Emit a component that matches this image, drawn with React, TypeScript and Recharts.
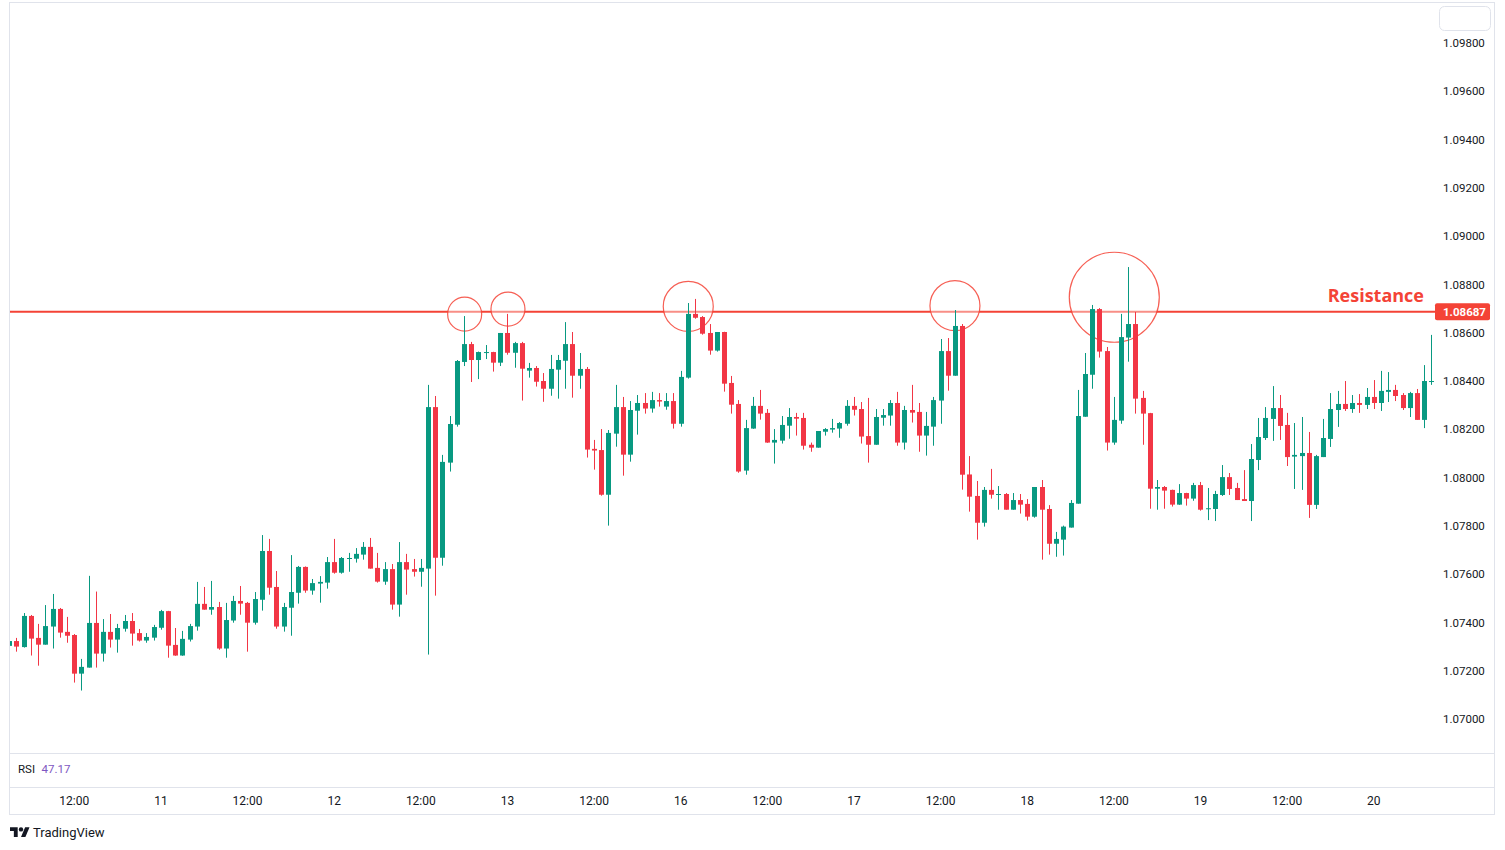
import React from 'react';
import { ComposedChart, Bar, XAxis, YAxis, ReferenceLine, ReferenceDot } from 'recharts';

// ---- data (EUR/USD hourly candles) ----
const OPEN = [
  1.07303, 1.07323, 1.07298, 1.07427, 1.07336, 1.07308, 1.07383, 1.07456, 1.07361, 1.07348,
  1.07188, 1.07213, 1.07398, 1.07271, 1.07361, 1.07329, 1.07374, 1.07406, 1.07356, 1.07325,
  1.07337, 1.07378, 1.07447, 1.07307, 1.07263, 1.07329, 1.07383, 1.07477, 1.07453, 1.07464,
  1.07292, 1.07408, 1.07489, 1.07481, 1.07399, 1.07494, 1.07696, 1.07547, 1.07383, 1.07461,
  1.07523, 1.07630, 1.07532, 1.07561, 1.07565, 1.07650, 1.07606, 1.07665, 1.07664, 1.07681,
  1.07713, 1.07626, 1.07569, 1.07621, 1.07474, 1.07650, 1.07621, 1.07610, 1.07623, 1.08292,
  1.07668, 1.08062, 1.08219, 1.08479, 1.08553, 1.08487, 1.08518, 1.08520, 1.08476, 1.08599,
  1.08517, 1.08557, 1.08443, 1.08454, 1.08400, 1.08368, 1.08447, 1.08484, 1.08553, 1.08422,
  1.08450, 1.08119, 1.08114, 1.07929, 1.08182, 1.08292, 1.08095, 1.08277, 1.08309, 1.08286,
  1.08321, 1.08294, 1.08317, 1.08223, 1.08414, 1.08678, 1.08665, 1.08599, 1.08526, 1.08603,
  1.08392, 1.08305, 1.08029, 1.08203, 1.08297, 1.08268, 1.08145, 1.08153, 1.08215, 1.08251,
  1.08247, 1.08136, 1.08124, 1.08190, 1.08199, 1.08203, 1.08223, 1.08297, 1.08284, 1.08172,
  1.08136, 1.08248, 1.08257, 1.08309, 1.08145, 1.08280, 1.08272, 1.08174, 1.08211, 1.08319,
  1.08524, 1.08422, 1.08628, 1.08013, 1.07924, 1.07813, 1.07949, 1.07928, 1.07932, 1.07867,
  1.07907, 1.07891, 1.07838, 1.07961, 1.07870, 1.07726, 1.07743, 1.07793, 1.07892, 1.08252,
  1.08426, 1.08698, 1.08524, 1.08145, 1.08236, 1.08580, 1.08636, 1.08330, 1.08267, 1.07954,
  1.07961, 1.07949, 1.07888, 1.07936, 1.07913, 1.07969, 1.07869, 1.07870, 1.07928, 1.08002,
  1.07957, 1.07911, 1.07903, 1.08073, 1.08164, 1.08243, 1.08288, 1.08218, 1.08087, 1.08089,
  1.08102, 1.07887, 1.08085, 1.08160, 1.08280, 1.08305, 1.08284, 1.08309, 1.08301, 1.08334,
  1.08309, 1.08355, 1.08363, 1.08342, 1.08288, 1.08350, 1.08239, 1.08396,
];
const HIGH = [
  1.07330, 1.07336, 1.07439, 1.07431, 1.07394, 1.07472, 1.07518, 1.07460, 1.07423, 1.07352,
  1.07249, 1.07593, 1.07528, 1.07414, 1.07435, 1.07394, 1.07431, 1.07439, 1.07373, 1.07356,
  1.07390, 1.07452, 1.07448, 1.07377, 1.07365, 1.07394, 1.07568, 1.07547, 1.07572, 1.07485,
  1.07481, 1.07510, 1.07551, 1.07485, 1.07526, 1.07762, 1.07746, 1.07613, 1.07481, 1.07679,
  1.07634, 1.07632, 1.07580, 1.07592, 1.07671, 1.07746, 1.07671, 1.07688, 1.07708, 1.07733,
  1.07750, 1.07688, 1.07650, 1.07642, 1.07733, 1.07684, 1.07663, 1.07663, 1.08384, 1.08338,
  1.08094, 1.08255, 1.08487, 1.08669, 1.08562, 1.08522, 1.08549, 1.08521, 1.08599, 1.08678,
  1.08562, 1.08562, 1.08475, 1.08462, 1.08433, 1.08508, 1.08508, 1.08644, 1.08603, 1.08516,
  1.08458, 1.08156, 1.08201, 1.08197, 1.08384, 1.08334, 1.08317, 1.08342, 1.08350, 1.08355,
  1.08350, 1.08350, 1.08350, 1.08442, 1.08723, 1.08740, 1.08669, 1.08636, 1.08603, 1.08604,
  1.08421, 1.08321, 1.08239, 1.08334, 1.08363, 1.08284, 1.08201, 1.08255, 1.08288, 1.08268,
  1.08268, 1.08145, 1.08193, 1.08205, 1.08243, 1.08230, 1.08321, 1.08334, 1.08313, 1.08330,
  1.08284, 1.08284, 1.08321, 1.08355, 1.08297, 1.08384, 1.08309, 1.08272, 1.08334, 1.08574,
  1.08578, 1.08694, 1.08636, 1.08089, 1.07986, 1.07961, 1.08036, 1.07965, 1.07936, 1.07936,
  1.07932, 1.07911, 1.07961, 1.07990, 1.07886, 1.07775, 1.07801, 1.07907, 1.08363, 1.08516,
  1.08715, 1.08702, 1.08541, 1.08334, 1.08678, 1.08872, 1.08686, 1.08359, 1.08268, 1.07990,
  1.07965, 1.07950, 1.07973, 1.07937, 1.07978, 1.07982, 1.07957, 1.07945, 1.08052, 1.08019,
  1.07978, 1.08031, 1.08139, 1.08247, 1.08292, 1.08379, 1.08342, 1.08268, 1.08226, 1.08251,
  1.08189, 1.08094, 1.08243, 1.08350, 1.08359, 1.08400, 1.08342, 1.08346, 1.08371, 1.08404,
  1.08442, 1.08437, 1.08384, 1.08350, 1.08355, 1.08367, 1.08466, 1.08591,
];
const LOW = [
  1.07300, 1.07279, 1.07296, 1.07263, 1.07221, 1.07308, 1.07292, 1.07337, 1.07316, 1.07151,
  1.07118, 1.07213, 1.07213, 1.07238, 1.07296, 1.07275, 1.07362, 1.07304, 1.07321, 1.07316,
  1.07325, 1.07370, 1.07254, 1.07262, 1.07262, 1.07321, 1.07366, 1.07453, 1.07432, 1.07287,
  1.07254, 1.07399, 1.07432, 1.07279, 1.07391, 1.07449, 1.07515, 1.07374, 1.07362, 1.07345,
  1.07478, 1.07523, 1.07515, 1.07482, 1.07540, 1.07602, 1.07602, 1.07610, 1.07648, 1.07660,
  1.07623, 1.07565, 1.07556, 1.07453, 1.07424, 1.07515, 1.07590, 1.07548, 1.07267, 1.07511,
  1.07635, 1.08025, 1.08211, 1.08462, 1.08396, 1.08408, 1.08491, 1.08439, 1.08462, 1.08509,
  1.08455, 1.08319, 1.08414, 1.08377, 1.08314, 1.08339, 1.08327, 1.08368, 1.08331, 1.08368,
  1.08083, 1.08033, 1.07925, 1.07801, 1.08128, 1.08008, 1.08066, 1.08178, 1.08265, 1.08269,
  1.08294, 1.08281, 1.08203, 1.08211, 1.08410, 1.08658, 1.08592, 1.08509, 1.08522, 1.08356,
  1.08265, 1.08020, 1.08012, 1.08202, 1.08240, 1.08144, 1.08058, 1.08141, 1.08161, 1.08174,
  1.08116, 1.08107, 1.08124, 1.08174, 1.08186, 1.08165, 1.08215, 1.08257, 1.08141, 1.08062,
  1.08136, 1.08215, 1.08215, 1.08132, 1.08116, 1.08228, 1.08107, 1.08091, 1.08132, 1.08223,
  1.08360, 1.08422, 1.07950, 1.07859, 1.07743, 1.07797, 1.07913, 1.07867, 1.07867, 1.07867,
  1.07851, 1.07822, 1.07834, 1.07660, 1.07681, 1.07672, 1.07677, 1.07793, 1.07892, 1.08252,
  1.08368, 1.08497, 1.08112, 1.08136, 1.08223, 1.08480, 1.08265, 1.08136, 1.07871, 1.07867,
  1.07871, 1.07880, 1.07887, 1.07884, 1.07904, 1.07863, 1.07824, 1.07820, 1.07924, 1.07928,
  1.07907, 1.07903, 1.07820, 1.08031, 1.08156, 1.08152, 1.08156, 1.08048, 1.07953, 1.07949,
  1.07833, 1.07870, 1.08085, 1.08127, 1.08210, 1.08276, 1.08268, 1.08268, 1.08284, 1.08284,
  1.08276, 1.08313, 1.08317, 1.08280, 1.08251, 1.08239, 1.08205, 1.08384,
];
const CLOSE = [
  1.07323, 1.07300, 1.07427, 1.07333, 1.07308, 1.07385, 1.07456, 1.07358, 1.07345, 1.07188,
  1.07216, 1.07398, 1.07271, 1.07361, 1.07329, 1.07377, 1.07406, 1.07354, 1.07325, 1.07340,
  1.07381, 1.07447, 1.07304, 1.07263, 1.07332, 1.07385, 1.07477, 1.07453, 1.07464, 1.07292,
  1.07410, 1.07489, 1.07478, 1.07399, 1.07497, 1.07696, 1.07544, 1.07383, 1.07464, 1.07526,
  1.07630, 1.07532, 1.07563, 1.07568, 1.07650, 1.07606, 1.07667, 1.07667, 1.07684, 1.07713,
  1.07623, 1.07569, 1.07621, 1.07474, 1.07650, 1.07619, 1.07610, 1.07626, 1.08292, 1.07668,
  1.08065, 1.08222, 1.08483, 1.08553, 1.08487, 1.08520, 1.08520, 1.08476, 1.08599, 1.08517,
  1.08557, 1.08451, 1.08454, 1.08397, 1.08368, 1.08450, 1.08487, 1.08553, 1.08422, 1.08450,
  1.08116, 1.08112, 1.07929, 1.08185, 1.08292, 1.08095, 1.08280, 1.08309, 1.08286, 1.08321,
  1.08315, 1.08317, 1.08223, 1.08417, 1.08678, 1.08662, 1.08596, 1.08526, 1.08603, 1.08389,
  1.08302, 1.08025, 1.08205, 1.08297, 1.08265, 1.08145, 1.08156, 1.08218, 1.08251, 1.08244,
  1.08132, 1.08124, 1.08193, 1.08201, 1.08205, 1.08226, 1.08297, 1.08281, 1.08170, 1.08136,
  1.08251, 1.08259, 1.08309, 1.08145, 1.08280, 1.08269, 1.08174, 1.08214, 1.08321, 1.08524,
  1.08422, 1.08628, 1.08012, 1.07921, 1.07813, 1.07949, 1.07929, 1.07932, 1.07867, 1.07907,
  1.07888, 1.07838, 1.07961, 1.07867, 1.07726, 1.07746, 1.07797, 1.07895, 1.08255, 1.08429,
  1.08698, 1.08522, 1.08145, 1.08239, 1.08582, 1.08636, 1.08327, 1.08265, 1.07954, 1.07961,
  1.07946, 1.07888, 1.07936, 1.07913, 1.07969, 1.07867, 1.07873, 1.07932, 1.08002, 1.07953,
  1.07907, 1.07903, 1.08077, 1.08168, 1.08247, 1.08288, 1.08214, 1.08085, 1.08094, 1.08102,
  1.07887, 1.08089, 1.08164, 1.08284, 1.08305, 1.08284, 1.08309, 1.08301, 1.08334, 1.08309,
  1.08359, 1.08363, 1.08338, 1.08288, 1.08350, 1.08239, 1.08400, 1.08400,
];

const TIME_TICK_INDEX = [9, 21, 33, 45, 57, 69, 81, 93, 105, 117, 129, 141, 153, 165, 177, 189];
const TIME_TICK_LABELS = ['12:00', '11', '12:00', '12', '12:00', '13', '12:00', '16', '12:00', '17', '12:00', '18', '12:00', '19', '12:00', '20'];
const PRICE_TICKS = [1.07, 1.072, 1.074, 1.076, 1.078, 1.08, 1.082, 1.084, 1.086, 1.088, 1.09, 1.092, 1.094, 1.096, 1.098];
const RESISTANCE = 1.08687;
const RESISTANCE_LABEL = 'Resistance';
const CIRCLE_INDEX = [63.07, 69.07, 94.04, 130.98, 153.05];
const CIRCLE_PRICE = [1.08677, 1.08698, 1.08709, 1.08712, 1.08747];
const RSI_LABEL = 'RSI';
const RSI_VALUE = 47.17;

// ---- view settings ----
const X_DOMAIN: [number, number] = [0.097, 197.47];
const Y_DOMAIN: [number, number] = [1.068593, 1.099657];
const CIRCLE_R = [17, 17, 25, 25, 45];
const GREEN = '#089981';
const RED = '#f23645';
const LINE_RED = '#f44336';
const TEXT = '#131722';
const BORDER = '#e0e3eb';
const FONT = 'Roboto, "Noto Sans", sans-serif';

const data = OPEN.map((o, i) => ({
  i,
  open: o,
  high: HIGH[i],
  low: LOW[i],
  close: CLOSE[i],
  range: [LOW[i], HIGH[i]],
}));

const Candle = (props: any) => {
  const { x, y, width, height, payload } = props;
  if (!payload || x == null || y == null) return null;
  const top = Math.min(y, y + height);
  const h = Math.abs(height);
  const { open, close, high, low } = payload;
  const color = close >= open ? GREEN : RED;
  const span = high - low || 1e-9;
  const yOf = (p: number) => top + ((high - p) / span) * h;
  const cx = Math.round(x + width / 2) + 0.5;
  const bTop = yOf(Math.max(open, close));
  const bBot = yOf(Math.min(open, close));
  return (
    <g>
      <line x1={cx} x2={cx} y1={top} y2={top + h} stroke={color} strokeWidth={1} />
      <rect x={cx - width / 2} y={bTop} width={width} height={Math.max(1, bBot - bTop)} fill={color} />
    </g>
  );
};

const TimeTick = (props: any) => {
  const { x, y, payload } = props;
  const idx = TIME_TICK_INDEX.indexOf(payload.value);
  return (
    <text x={x} y={y + 52} textAnchor="middle" fill={TEXT} fontSize={12} fontFamily={FONT}>
      {idx >= 0 ? TIME_TICK_LABELS[idx] : ''}
    </text>
  );
};

const ResistanceLabel = (props: any) => {
  const vb = props.viewBox || {};
  const right = (vb.x || 0) + (vb.width || 0);
  const yy = vb.y || 0;
  return (
    <g>
      <text
        x={right - 11}
        y={yy - 10}
        textAnchor="end"
        fill={LINE_RED}
        fontSize={18}
        fontWeight={700}
        fontFamily='"Open Sans", Roboto, sans-serif'
      >
        {RESISTANCE_LABEL}
      </text>
      <rect x={right} y={yy - 8.5} width={55} height={17} rx={2} fill={LINE_RED} />
      <text x={right + 8} y={yy + 4.2} fill="#ffffff" fontSize={11.5} fontWeight={700} fontFamily={FONT}>
        {RESISTANCE.toFixed(5)}
      </text>
    </g>
  );
};

export default function App() {
  return (
    <div style={{ position: 'absolute', left: 0, top: 0, width: 1505, height: 850, background: '#ffffff' }}>
      <div style={{ position: 'absolute', left: 0, top: 0 }}>
        <ComposedChart
          width={1505}
          height={850}
          data={data}
          margin={{ top: 3, right: 11, bottom: 35, left: 10 }}
        >
          <XAxis
            dataKey="i"
            type="number"
            domain={X_DOMAIN}
            allowDataOverflow
            ticks={TIME_TICK_INDEX}
            interval={0}
            tick={<TimeTick />}
            tickLine={false}
            axisLine={false}
            tickSize={0}
            tickMargin={0}
            height={62}
          />
          <YAxis
            orientation="right"
            type="number"
            domain={Y_DOMAIN}
            allowDataOverflow
            ticks={PRICE_TICKS}
            interval={0}
            tickFormatter={(v: number) => v.toFixed(5)}
            tick={{ fill: TEXT, fontSize: 11.5, fontFamily: FONT }}
            tickLine={false}
            axisLine={false}
            tickSize={0}
            tickMargin={8}
            width={59}
          />
          <ReferenceLine y={RESISTANCE} stroke={LINE_RED} strokeWidth={2} label={ResistanceLabel} />
          {CIRCLE_INDEX.map((cx, k) => (
            <ReferenceDot
              key={k}
              x={cx}
              y={CIRCLE_PRICE[k]}
              r={CIRCLE_R[k]}
              fill="#ffffff"
              fillOpacity={0.4}
              stroke={LINE_RED}
              strokeOpacity={0.85}
              strokeWidth={1.2}
            />
          ))}
          <Bar dataKey="range" barSize={5} shape={<Candle />} isAnimationActive={false} zIndex={900} />
        </ComposedChart>
      </div>
      <svg
        width={1505}
        height={850}
        style={{ position: 'absolute', left: 0, top: 0, pointerEvents: 'none' }}
      >
        <rect x={9.5} y={2.5} width={1485} height={812} fill="none" stroke={BORDER} strokeWidth={1} />
        <line x1={10} x2={1494} y1={753.5} y2={753.5} stroke={BORDER} strokeWidth={1} />
        <line x1={10} x2={1494} y1={787.5} y2={787.5} stroke={BORDER} strokeWidth={1} />
        <rect x={1439.5} y={6.5} width={51} height={24} rx={5} fill="none" stroke={BORDER} strokeWidth={1} />
        <text x={18} y={772.5} fill={TEXT} fontSize={11.5} fontFamily={FONT}>
          {RSI_LABEL}
        </text>
        <text x={41.5} y={772.5} fill="#7e57c2" fontSize={11.5} fontFamily={FONT}>
          {RSI_VALUE.toFixed(2)}
        </text>
        <g transform="translate(10 825) scale(0.55)" fill={TEXT}>
          <path d="M14 22H7V11H0V4h14v18z" />
          <path d="M28 22h-8l7.5-18h8L28 22z" />
          <circle cx={20} cy={8} r={4} />
        </g>
        <text x={33} y={836.5} fill={TEXT} fontSize={13} fontFamily={FONT}>
          TradingView
        </text>
      </svg>
    </div>
  );
}
